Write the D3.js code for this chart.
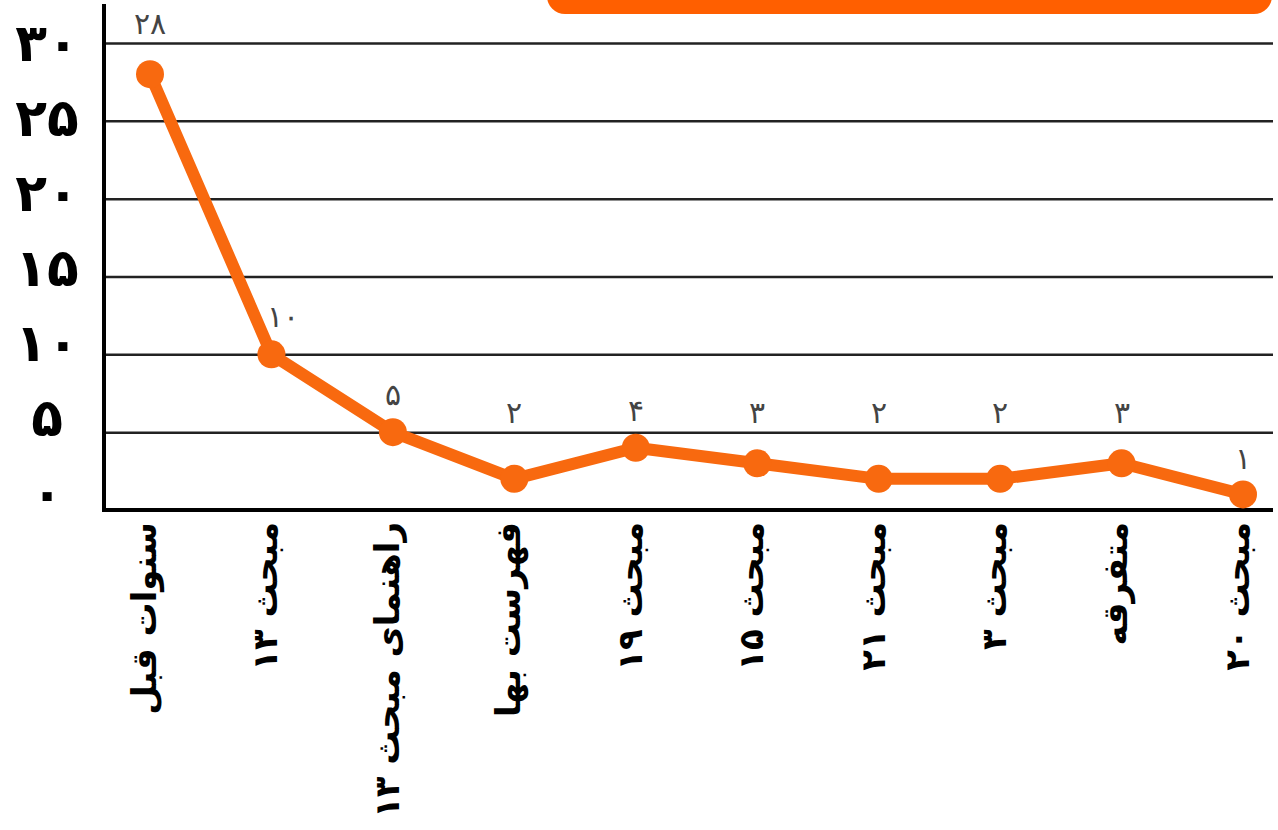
<!DOCTYPE html>
<html>
<head>
<meta charset="utf-8">
<script src="https://cdn.jsdelivr.net/npm/d3@7"></script>
<style>
  body { margin: 0; background: #fff; }
  text { font-family: "DejaVu Sans", sans-serif; }
</style>
</head>
<body>
<div id="chart"></div>
<script>
var categories = ["سنوات قبل", "مبحث ۱۳", "راهنمای مبحث ۱۳", "فهرست بها", "مبحث ۱۹",
  "مبحث ۱۵", "مبحث ۲۱", "مبحث ۳", "متفرقه", "مبحث ۲۰"];
var values = [28, 10, 5, 2, 4, 3, 2, 2, 3, 1];
var valueLabels = ["۲۸", "۱۰", "۵", "۲", "۴", "۳", "۲", "۲", "۳", "۱"];
var yTicks = [0, 5, 10, 15, 20, 25, 30];
var yTickLabels = ["۰", "۵", "۱۰", "۱۵", "۲۰", "۲۵", "۳۰"];

var svgWidth = 1278;
var svgHeight = 830;

var svg = d3.select("#chart")
  .append("svg")
  .attr("width", svgWidth)
  .attr("height", svgHeight);

var axisX = 104;
var axisRight = 1273;
var baseY = 510;

var x = d3.scalePoint()
  .domain(categories)
  .range([150, 1243]);

var y = d3.scaleLinear()
  .domain([0, 30])
  .range([baseY, 43]);

// tick labels sit a bit tighter than the gridlines in the original
var yLab = d3.scaleLinear()
  .domain([0, 30])
  .range([493, 43]);

// orange header box, cut off at the top
svg.append("rect")
  .attr("x", 547)
  .attr("y", -30)
  .attr("width", 725)
  .attr("height", 44)
  .attr("rx", 18)
  .attr("fill", "#ff5f00");

// gridlines
var grid = svg.append("g")
  .attr("transform", `translate(${axisX},0)`)
  .call(d3.axisLeft(y)
    .tickValues(yTicks.filter(d => d > 0))
    .tickSize(-(axisRight - axisX))
    .tickFormat(""));
grid.select(".domain").remove();
grid.selectAll(".tick line")
  .attr("stroke", "#222")
  .attr("stroke-width", 2.5);

// axes
svg.append("line")
  .attr("x1", axisX).attr("x2", axisX)
  .attr("y1", 4).attr("y2", baseY + 2)
  .attr("stroke", "#000")
  .attr("stroke-width", 4);

svg.append("line")
  .attr("x1", axisX - 2).attr("x2", axisRight)
  .attr("y1", baseY).attr("y2", baseY)
  .attr("stroke", "#000")
  .attr("stroke-width", 4);

// y tick labels
svg.append("g")
  .selectAll("text")
  .data(yTicks)
  .enter()
  .append("text")
  .attr("x", 47)
  .attr("y", d => yLab(d))
  .attr("dy", "0.35em")
  .attr("text-anchor", "middle")
  .attr("font-size", 52)
  .attr("font-weight", "bold")
  .attr("fill", "#000")
  .text((d, i) => yTickLabels[i]);

// category labels, rotated
svg.append("g")
  .selectAll("text")
  .data(categories)
  .enter()
  .append("text")
  .attr("transform", d => `translate(${x(d) - 6},${baseY + 12}) rotate(-90)`)
  .attr("dy", "0.35em")
  .attr("text-anchor", "end")
  .attr("font-size", 34)
  .attr("font-weight", "bold")
  .attr("fill", "#000")
  .text(d => d);

// line
var line = d3.line()
  .x((d, i) => x(categories[i]))
  .y(d => y(d));

svg.append("path")
  .datum(values)
  .attr("d", line)
  .attr("fill", "none")
  .attr("stroke", "#f8690f")
  .attr("stroke-width", 12)
  .attr("stroke-linejoin", "round");

svg.append("g")
  .selectAll("circle")
  .data(values)
  .enter()
  .append("circle")
  .attr("cx", (d, i) => x(categories[i]))
  .attr("cy", d => y(d))
  .attr("r", 14)
  .attr("fill", "#f8690f");

// value labels: kept above the next gridline up, last one hugs its point
var last = values.length - 1;
svg.append("g")
  .selectAll("text")
  .data(values)
  .enter()
  .append("text")
  .attr("x", (d, i) => x(categories[i]) + (i === 1 ? 12 : 0))
  .attr("y", (d, i) => i === last ? y(d) - 25
    : Math.min(y(d) - 27, y(Math.ceil(d / 5) * 5) - 9))
  .attr("text-anchor", "middle")
  .attr("font-size", 30)
  .attr("font-weight", 200)
  .attr("fill", "#444")
  .text((d, i) => valueLabels[i]);
</script>
</body>
</html>
